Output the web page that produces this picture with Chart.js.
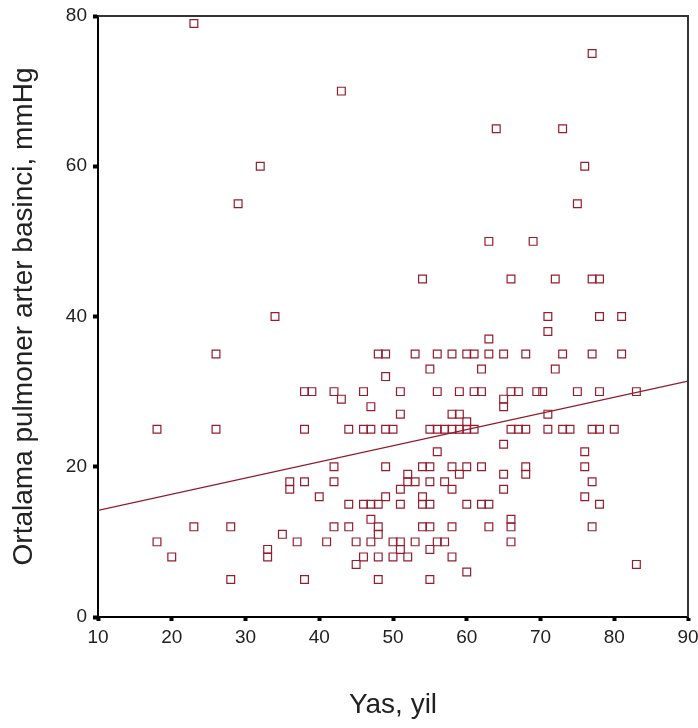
<!DOCTYPE html>
<html>
<head>
<meta charset="utf-8">
<script src="https://cdn.jsdelivr.net/npm/chart.js@4"></script>
<style>
  html, body { margin: 0; padding: 0; background: #fff; }
  #wrap { width: 698px; height: 728px; }
</style>
</head>
<body>
<div id="wrap"><canvas id="scatterCanvas" width="698" height="728"></canvas></div>
<script>
// Yas (x) ve ortalama pulmoner arter basinci (y)
const yas = [
  23, 43, 77, 64, 73, 32, 76, 29, 75, 63, 69, 54, 66, 72, 77, 78, 34, 71, 78, 81, 71, 63,
  26, 48, 49, 53, 56, 58, 60, 61, 63, 65, 68, 73, 77, 81,
  55, 62, 72, 49,
  38, 39, 42, 46, 51, 56, 59, 61, 62, 66, 67, 69.5, 70.3, 75, 78, 83,
  43, 47, 51, 65, 65, 58, 59, 60, 71,
  18, 26, 38, 44, 46, 47, 49, 50, 55, 56, 57, 58, 59, 60, 61, 66, 67, 68, 71, 73, 74, 77, 78, 80,
  65, 56, 76, 76,
  42, 49, 54, 55, 58, 60, 62, 68,
  52, 59, 65, 68,
  36, 38, 42, 52, 53, 55, 57, 77,
  36, 51, 58, 65,
  40, 49, 54, 76,
  44, 46, 47, 48, 51, 54, 55, 60, 62, 63, 78,
  47, 66,
  23, 28, 42, 44, 48, 54, 55, 58, 63, 66, 77,
  35, 48,
  18, 37, 41, 45, 47, 50, 51, 53, 56, 57, 66,
  33, 51, 55,
  20, 33, 46, 48, 50, 52, 58,
  45, 83, 60,
  28, 38, 48, 55
];
const basinc = [
  79, 70, 75, 65, 65, 60, 60, 55, 55, 50, 50, 45, 45, 45, 45, 45, 40, 40, 40, 40, 38, 37,
  35, 35, 35, 35, 35, 35, 35, 35, 35, 35, 35, 35, 35, 35,
  33, 33, 33, 32,
  30, 30, 30, 30, 30, 30, 30, 30, 30, 30, 30, 30, 30, 30, 30, 30,
  29, 28, 27, 29, 28, 27, 27, 26, 27,
  25, 25, 25, 25, 25, 25, 25, 25, 25, 25, 25, 25, 25, 25, 25, 25, 25, 25, 25, 25, 25, 25, 25, 25,
  23, 22, 22, 20,
  20, 20, 20, 20, 20, 20, 20, 20,
  19, 19, 19, 19,
  18, 18, 18, 18, 18, 18, 18, 18,
  17, 17, 17, 17,
  16, 16, 16, 16,
  15, 15, 15, 15, 15, 15, 15, 15, 15, 15, 15,
  13, 13,
  12, 12, 12, 12, 12, 12, 12, 12, 12, 12, 12,
  11, 11,
  10, 10, 10, 10, 10, 10, 10, 10, 10, 10, 10,
  9, 9, 9,
  8, 8, 8, 8, 8, 8, 8,
  7, 7, 6,
  5, 5, 5, 5
];

// regresyon dogrusu uclari
const fitX = [10, 90];
const fitY = [14.2, 31.4];

const xTicks = [10, 20, 30, 40, 50, 60, 70, 80, 90];
const yTicks = [0, 20, 40, 60, 80];

const points = yas.map((x, i) => ({ x: x, y: basinc[i] }));
const fitLine = fitX.map((x, i) => ({ x: x, y: fitY[i] }));

// ust ve sag cerceve
const framePlugin = {
  id: "frame",
  afterDraw: (chart) => {
    const { ctx, chartArea } = chart;
    ctx.save();
    ctx.strokeStyle = "#333";
    ctx.lineWidth = 2;
    ctx.beginPath();
    ctx.moveTo(chartArea.left, chartArea.top);
    ctx.lineTo(chartArea.right, chartArea.top);
    ctx.lineTo(chartArea.right, chartArea.bottom);
    ctx.stroke();
    ctx.restore();
  },
};

const tickFont = { family: "'Liberation Sans', Arial, sans-serif", size: 19 };
const titleFont = { family: "'Liberation Sans', Arial, sans-serif", size: 28 };

new Chart(document.getElementById("scatterCanvas"), {
  type: "scatter",
  data: {
    datasets: [
      {
        label: "Hastalar",
        data: points,
        pointStyle: "rect",
        pointRadius: 5.5,
        pointBorderWidth: 1.2,
        pointBackgroundColor: "rgba(255,255,255,0)",
        pointBorderColor: "#961c2e",
      },
      {
        type: "line",
        label: "Regresyon",
        data: fitLine,
        borderColor: "#8e1b2b",
        borderWidth: 1.3,
        pointRadius: 0,
        fill: false,
      },
    ],
  },
  plugins: [framePlugin],
  options: {
    responsive: false,
    animation: false,
    layout: { padding: { left: 3, right: 10, top: 16, bottom: 2 } },
    plugins: { legend: { display: false }, tooltip: { enabled: false } },
    scales: {
      x: {
        type: "linear",
        min: 10,
        max: 90,
        afterBuildTicks: (scale) => {
          scale.ticks = xTicks.map((v) => ({ value: v }));
        },
        afterFit: (scale) => {
          scale.height = 109;
          scale.paddingLeft = 0;
          scale.paddingRight = 0;
        },
        grid: { drawOnChartArea: false, drawTicks: true, tickLength: 4, tickWidth: 4, tickColor: "#000" },
        border: { display: true, color: "#000", width: 2 },
        ticks: { color: "#222", font: tickFont, padding: 5 },
        title: { display: true, text: "Yas, yil", color: "#222", font: titleFont },
      },
      y: {
        min: 0,
        max: 80,
        afterBuildTicks: (scale) => {
          scale.ticks = yTicks.map((v) => ({ value: v }));
        },
        afterFit: (scale) => {
          scale.width = 95;
          scale.paddingTop = 0;
          scale.paddingBottom = 0;
        },
        grid: { drawOnChartArea: false, drawTicks: true, tickLength: 5, tickWidth: 4, tickColor: "#000" },
        border: { display: true, color: "#000", width: 2 },
        ticks: { color: "#222", font: tickFont, padding: 6 },
        title: { display: true, text: "Ortalama pulmoner arter basinci, mmHg", color: "#222", font: titleFont },
      },
    },
  },
});
</script>
</body>
</html>
